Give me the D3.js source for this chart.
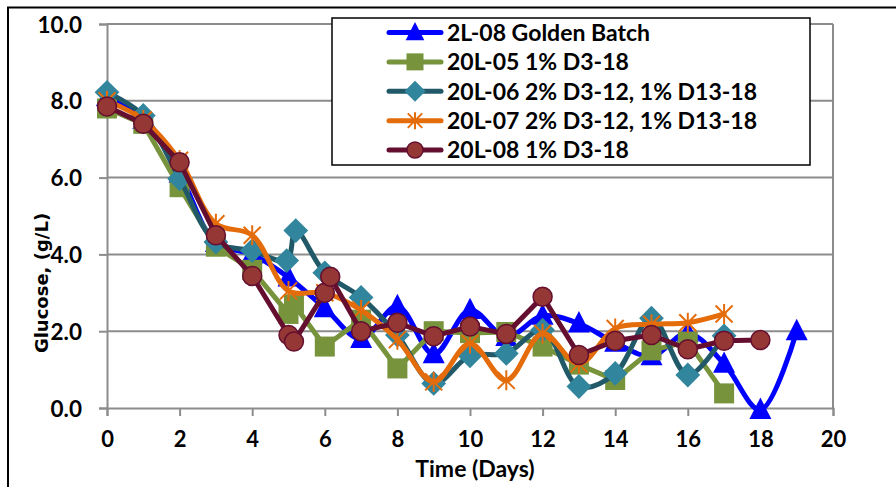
<!DOCTYPE html>
<html>
<head>
<meta charset="utf-8">
<script src="https://cdn.jsdelivr.net/npm/d3@7"></script>
<style>
  html, body { margin: 0; padding: 0; background: #fff; }
  svg { display: block; }
</style>
</head>
<body>
<svg id="chart" width="896" height="487"></svg>
<script>
// Glucose concentration by culture day for five batches
const seriesNames = [
  "2L-08 Golden Batch",
  "20L-05 1% D3-18",
  "20L-06 2% D3-12, 1% D13-18",
  "20L-07 2% D3-12, 1% D13-18",
  "20L-08 1% D3-18"
];

const goldenDays = [0, 1, 2, 3, 4, 5, 6, 7, 8, 9, 10, 11, 12, 13, 14, 15, 16, 17, 18, 19];
const goldenGlucose = [8.1, 7.5, 6.1, 4.3, 4.0, 3.4, 2.6, 1.8, 2.65, 1.4, 2.55, 1.85, 2.4, 2.2, 1.7, 1.35, 1.95, 1.15, -0.05, 2.0];

const b05Days = [0, 1, 2, 3, 4, 5, 5.15, 6, 7, 8, 9, 10, 11, 12, 13, 14, 15, 16, 17];
const b05Glucose = [7.8, 7.4, 5.75, 4.2, 3.6, 2.45, 2.7, 1.6, 2.3, 1.03, 2.0, 1.95, 1.98, 1.6, 1.13, 0.73, 1.5, 1.73, 0.38];

const b06Days = [0, 1, 2, 3, 4, 4.95, 5.2, 6, 7, 8, 9, 10, 11, 12, 13, 14, 15, 16, 17];
const b06Glucose = [8.22, 7.62, 5.97, 4.32, 4.1, 3.84, 4.62, 3.52, 2.88, 1.9, 0.64, 1.36, 1.42, 2.03, 0.56, 0.9, 2.34, 0.86, 1.88];

const b07Days = [0, 1, 2, 3, 4, 5, 6, 7, 8, 9, 10, 11, 12, 13, 14, 15, 16, 17];
const b07Glucose = [8.0, 7.5, 6.45, 4.8, 4.5, 3.05, 3.0, 2.55, 1.78, 0.68, 1.68, 0.72, 1.94, 1.15, 2.07, 2.18, 2.22, 2.45];

const b08Days = [0, 1, 2, 3, 4, 5, 5.15, 6, 6.15, 7, 8, 9, 10, 11, 12, 13, 14, 15, 16, 17, 18];
const b08Glucose = [7.85, 7.4, 6.4, 4.5, 3.44, 1.9, 1.73, 3.0, 3.42, 2.0, 2.22, 1.87, 2.12, 1.93, 2.9, 1.38, 1.75, 1.9, 1.53, 1.75, 1.77];

const xTicks = [0, 2, 4, 6, 8, 10, 12, 14, 16, 18, 20];
const yTicks = [0, 2, 4, 6, 8, 10];
const xTitle = "Time (Days)";
const yTitle = "Glucose, (g/L)";

// Styling per series, in drawing order
const styles = [
  { line: "#0000ff", fill: "#0000ff", stroke: "none", marker: "triangle", smooth: true },
  { line: "#77933c", fill: "#77933c", stroke: "none", marker: "square", smooth: false },
  { line: "#215968", fill: "#31859c", stroke: "none", marker: "diamond", smooth: true },
  { line: "#e46c0a", fill: "none", stroke: "#e46c0a", marker: "star", smooth: true },
  { line: "#650f30", fill: "#953735", stroke: "#650f30", marker: "circle", smooth: false }
];

const series = [
  [goldenDays, goldenGlucose],
  [b05Days, b05Glucose],
  [b06Days, b06Glucose],
  [b07Days, b07Glucose],
  [b08Days, b08Glucose]
].map(([d, v], i) => ({
  name: seriesNames[i],
  style: styles[i],
  points: d.map((day, j) => ({ day, value: v[j] }))
}));

const labelFont = "Lato, 'Open Sans', sans-serif";
const svg = d3.select("#chart");

svg.append("rect").attr("width", 896).attr("height", 487).attr("fill", "#fff");

// Outer frame (top and left edges)
svg.append("path")
  .attr("d", "M8,487 L8,7.5 L896,7.5")
  .attr("fill", "none").attr("stroke", "#000").attr("stroke-width", 2);

const plot = { left: 107, right: 833, top: 24, bottom: 408 };

const x = d3.scaleLinear().domain([0, 20]).range([plot.left, plot.right]);
const y = d3.scaleLinear().domain([0, 10]).range([plot.bottom, plot.top]);

const gridColor = "#8c8c8c";

// Horizontal gridlines
svg.append("g")
  .selectAll("line")
  .data(yTicks.filter(t => t > 0))
  .join("line")
  .attr("x1", plot.left).attr("x2", plot.right)
  .attr("y1", d => y(d)).attr("y2", d => y(d))
  .attr("stroke", gridColor).attr("stroke-width", 2);

// Right edge of plot area
svg.append("line")
  .attr("x1", plot.right).attr("x2", plot.right)
  .attr("y1", plot.top).attr("y2", plot.bottom)
  .attr("stroke", gridColor).attr("stroke-width", 2);

// Y axis
const yAxis = svg.append("g")
  .attr("transform", `translate(${plot.left},0)`)
  .call(d3.axisLeft(y).tickValues(yTicks).tickFormat(d3.format(".1f")).tickSize(8).tickPadding(17));
yAxis.select(".domain").attr("stroke", gridColor).attr("stroke-width", 2);
yAxis.selectAll(".tick line").attr("stroke", gridColor).attr("stroke-width", 2);
yAxis.selectAll(".tick text")
  .attr("font-family", labelFont).attr("font-weight", 700).attr("font-size", 22.5)
  .attr("fill", "#000").attr("dy", "0.36em");

// X axis
const xAxis = svg.append("g")
  .attr("transform", `translate(0,${plot.bottom})`)
  .call(d3.axisBottom(x).tickValues(xTicks).tickFormat(d3.format("d")).tickSize(8).tickPadding(15));
xAxis.select(".domain").attr("stroke", gridColor).attr("stroke-width", 2);
xAxis.selectAll(".tick line").attr("stroke", gridColor).attr("stroke-width", 2);
xAxis.selectAll(".tick text")
  .attr("font-family", labelFont).attr("font-weight", 700).attr("font-size", 22)
  .attr("fill", "#000");

// Axis titles
svg.append("text")
  .attr("x", 475).attr("y", 477)
  .attr("text-anchor", "middle")
  .attr("font-family", labelFont).attr("font-weight", 700).attr("font-size", 23)
  .text(xTitle);

svg.append("text")
  .attr("transform", "translate(48,283) rotate(-90)")
  .attr("text-anchor", "middle")
  .attr("font-family", "'DejaVu Sans', sans-serif").attr("font-weight", 700).attr("font-size", 18)
  .text(yTitle);

// Marker shapes
function drawMarker(g, st, cx, cy, s) {
  if (st.marker === "triangle") {
    g.append("path").attr("d", `M${cx},${cy - s * 0.62} L${cx + s * 0.55},${cy + s * 0.45} L${cx - s * 0.55},${cy + s * 0.45} Z`)
      .attr("fill", st.fill);
  } else if (st.marker === "square") {
    g.append("rect").attr("x", cx - s / 2).attr("y", cy - s / 2).attr("width", s).attr("height", s)
      .attr("fill", st.fill);
  } else if (st.marker === "diamond") {
    const h = s * 0.62;
    g.append("path").attr("d", `M${cx},${cy - h} L${cx + h},${cy} L${cx},${cy + h} L${cx - h},${cy} Z`)
      .attr("fill", st.fill);
  } else if (st.marker === "star") {
    const h = s / 2;
    g.append("path")
      .attr("d", `M${cx},${cy - h} L${cx},${cy + h} M${cx - h * 0.85},${cy - h * 0.85} L${cx + h * 0.85},${cy + h * 0.85} M${cx + h * 0.85},${cy - h * 0.85} L${cx - h * 0.85},${cy + h * 0.85}`)
      .attr("stroke", st.stroke).attr("stroke-width", 2).attr("fill", "none");
  } else if (st.marker === "circle") {
    g.append("circle").attr("cx", cx).attr("cy", cy).attr("r", s / 2 - 0.5)
      .attr("fill", st.fill).attr("stroke", st.stroke).attr("stroke-width", 1.5);
  }
}

// Series lines and markers
const plotG = svg.append("g");
series.forEach(s => {
  const line = d3.line()
    .x(d => x(d.day)).y(d => y(d.value))
    .curve(s.style.smooth ? d3.curveCatmullRom.alpha(0.5) : d3.curveLinear);
  const g = plotG.append("g");
  g.append("path")
    .datum(s.points)
    .attr("d", line)
    .attr("fill", "none")
    .attr("stroke", s.style.line)
    .attr("stroke-width", 5)
    .attr("stroke-linejoin", "round")
    .attr("stroke-linecap", "round");
  s.points.forEach(p => drawMarker(g, s.style, x(p.day), y(p.value), 20));
});

// Legend
const legend = svg.append("g");
legend.append("rect")
  .attr("x", 332).attr("y", 18).attr("width", 478).attr("height", 147)
  .attr("fill", "#fff").attr("stroke", "#000").attr("stroke-width", 1.5);

const legendY = d3.scalePoint().domain(seriesNames).range([32.5, 150]);
series.forEach(s => {
  const cy = legendY(s.name);
  const g = legend.append("g");
  g.append("line")
    .attr("x1", 389).attr("x2", 441).attr("y1", cy).attr("y2", cy)
    .attr("stroke", s.style.line).attr("stroke-width", 5).attr("stroke-linecap", "round");
  drawMarker(g, s.style, 415, cy, 17);
  g.append("text")
    .attr("x", 447).attr("y", cy).attr("dy", "0.36em")
    .attr("font-family", labelFont).attr("font-weight", 700).attr("font-size", 23)
    .text(s.name);
});
</script>
</body>
</html>
